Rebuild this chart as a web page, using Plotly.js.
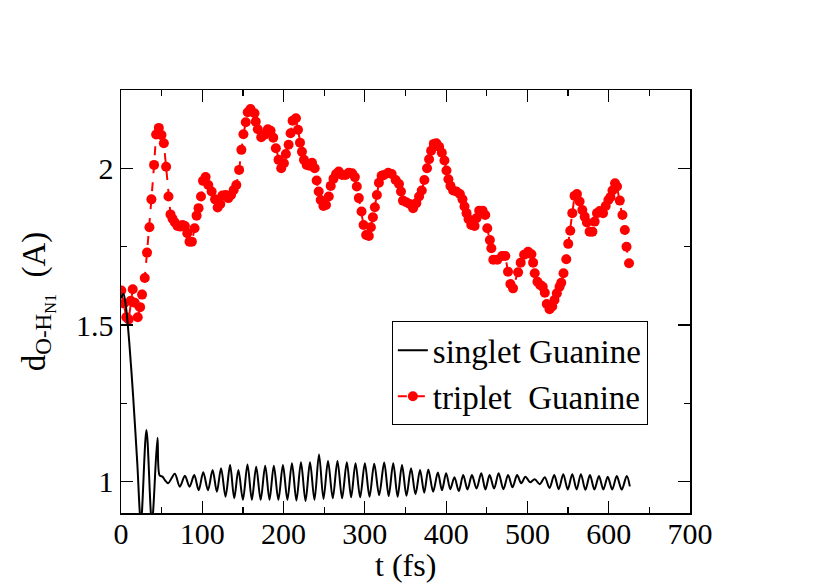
<!DOCTYPE html>
<html>
<head>
<meta charset="utf-8">
<script src="https://cdn.plot.ly/plotly-3.0.1.min.js"></script>
<style>
  html, body { margin: 0; padding: 0; background: #fff; }
  #chart { width: 830px; height: 587px; }
</style>
</head>
<body>
<div id="chart"></div>
<script>
// triplet Guanine (t in fs, distance in A)
const tripletT = [
  0.4, 3.7, 6.5, 9.5, 12, 14.4, 16.9, 20.6, 23.5, 25.9, 29.2, 32, 35, 37.4, 40.7, 43.2, 46.5, 49.8,
  52.7, 55.5, 58.4, 60.9, 63.4, 66.3, 69.5, 72.8, 75.7, 78.6, 81.5, 84.3, 87.2, 90.5, 93, 95.4,
  98.4, 100.9, 104.1, 107.4, 111.5, 115.7, 118.9, 122.2, 124.7, 128.8, 132, 135.4, 138.6, 141.9,
  145.3, 148.1, 150.6, 153.5, 155.9, 159.3, 164.2, 165.8, 168.3, 172.5, 176.5, 180.6, 184, 187.3,
  190.5, 193.8, 197.1, 200.4, 202.8, 206.2, 208.6, 211.1, 215.2, 217.7, 220.2, 222.6, 225.1,
  228.4, 231.7, 235, 238.3, 240.7, 243.2, 245.7, 249, 252.2, 255.6, 258, 261.4, 264.6, 267.9,
  272, 276.2, 280.2, 284.3, 287.7, 290.1, 292.6, 295.9, 298.4, 301.6, 304.9, 307.4, 309.9,
  312.3, 314.8, 317.3, 320.6, 323.5, 328.8, 333, 337.9, 342, 344.4, 346.9, 351, 355.2, 359.3,
  363.4, 366.7, 370, 373.2, 376.5, 379, 381.5, 384.8, 388, 391.4, 394.7, 397.9, 400.4, 402.8,
  405.3, 408.6, 412.7, 416.9, 420.1, 422.6, 425.1, 427.5, 430.9, 435, 437.4, 440.7, 444.8,
  448.1, 450.6, 453.8, 455.6, 458, 462.9, 468.8, 472.8, 476.1, 479, 482.3, 488.5, 491.7, 495.9,
  500.8, 504.9, 507, 509, 512.3, 515.6, 518.8, 521.4, 523.8, 527.2, 530.5, 533.3, 536.2, 539.5,
  541.6, 544.4, 547.8, 550.2, 552.7, 555.2, 558, 560.9, 564.2, 567.5, 570.4, 573.2, 576.5,
  579.9, 582.7, 585.6, 588.9, 593, 596.3, 599.6, 602.1, 604.6, 607.8, 610.2, 613.6, 616.9,
  619.8, 621.9, 625
];
const tripletD = [
  1.610, 1.569, 1.525, 1.518, 1.577, 1.614, 1.571, 1.525, 1.557, 1.597, 1.650, 1.731, 1.812, 1.901, 2.011, 2.108, 2.129, 2.106,
  2.080, 2.005, 1.910, 1.853, 1.839, 1.827, 1.816, 1.814, 1.819, 1.816, 1.793, 1.766, 1.766, 1.809, 1.849, 1.873,
  1.910, 1.960, 1.972, 1.947, 1.926, 1.901, 1.875, 1.886, 1.913, 1.915, 1.905, 1.915, 1.931, 1.947,
  1.995, 2.059, 2.109, 2.147, 2.179, 2.189, 2.176, 2.149, 2.125, 2.099, 2.107, 2.125, 2.120, 2.098,
  2.064, 2.027, 2.000, 2.016, 2.046, 2.075, 2.112, 2.152, 2.160, 2.123, 2.082, 2.053, 2.027,
  2.011, 2.008, 2.018, 2.000, 1.961, 1.926, 1.899, 1.880, 1.883, 1.910, 1.944, 1.967, 1.982, 1.990,
  1.979, 1.979, 1.986, 1.984, 1.972, 1.942, 1.905, 1.862, 1.819, 1.787, 1.784, 1.812, 1.844,
  1.876, 1.915, 1.954, 1.976, 1.979, 1.986, 1.982, 1.963, 1.950, 1.926, 1.897, 1.892, 1.886, 1.873,
  1.889, 1.910, 1.929, 1.963, 2.000, 2.029, 2.056, 2.078, 2.080, 2.069, 2.050, 2.025, 1.993, 1.965,
  1.944, 1.929, 1.926, 1.918, 1.901, 1.878, 1.857, 1.838, 1.819, 1.816, 1.841, 1.865, 1.865,
  1.851, 1.809, 1.771, 1.745, 1.708, 1.708, 1.720, 1.720, 1.670, 1.631, 1.617, 1.668, 1.699, 1.724,
  1.734, 1.726, 1.699, 1.665, 1.638, 1.628, 1.622, 1.603, 1.567, 1.550, 1.559, 1.580, 1.601, 1.622,
  1.635, 1.665, 1.710, 1.759, 1.801, 1.857, 1.912, 1.918, 1.894, 1.867, 1.846, 1.827, 1.798,
  1.798, 1.830, 1.857, 1.864, 1.857, 1.880, 1.899, 1.908, 1.929, 1.952, 1.942, 1.897, 1.851,
  1.803, 1.750, 1.697
];

// singlet Guanine: start of the drop, then the turning points of the O-H vibration
const singletT = [
  0, 3, 6, 10, 15, 20, 24.5, 31.3, 38, 44.9, 47.5, 51, 54, 58, 62,
  66.3, 72.4, 78.6, 84.3, 90.1, 95.6, 101.2, 107, 112.7, 117.9, 123.1, 128.6, 134.2, 139.3,
  144.4, 150, 155.6, 161, 166.3, 171.8, 177.4, 182.7, 188, 193.6, 199.2, 204.7, 210.3, 215.8,
  221.4, 227, 232.5, 238, 243.6, 249.1, 254.7, 260.5, 266.3, 272, 277.8, 283.1, 288.5, 294.2,
  300, 305.7, 311.5, 317.6, 323.8, 329.3, 334.9, 340.3, 345.7, 351.2, 356.8, 362.3, 367.9, 373,
  378.1, 384, 389.8, 394.9, 400, 405.1, 410.2, 415.6, 421, 426.3, 431.7, 437.4, 443.2, 448.3,
  453.5, 459, 464.6, 470.4, 476.2, 481.7, 487.3, 492.4, 497.5, 503.2, 509, 515.2, 521.4, 527.2,
  533, 538.5, 544.1, 549.6, 555.2, 560.5, 565.8, 571.3, 576.9, 582.4, 588, 593.4, 598.8, 604.3,
  609.9, 616, 622.2, 626
];
const singletD = [
  1.585, 1.60, 1.56, 1.45, 1.27, 1.06, 0.87, 1.165, 0.87, 1.14, 1.02, 1.016, 1.005, 0.995, 1.01,
  1.025, 0.984, 1.019, 0.984, 1.021, 0.973, 1.030, 0.973, 1.037, 0.968, 1.043, 0.952, 1.053, 0.947,
  1.037, 0.942, 1.055, 0.942, 1.048, 0.942, 1.051, 0.942, 1.051, 0.942, 1.053, 0.942, 1.059, 0.940,
  1.062, 0.938, 1.062, 0.942, 1.087, 0.945, 1.066, 0.947, 1.066, 0.947, 1.062, 0.950, 1.059, 0.950,
  1.059, 0.952, 1.057, 0.957, 1.061, 0.954, 1.059, 0.952, 1.053, 0.955, 1.043, 0.960, 1.037, 0.965,
  1.039, 0.968, 1.029, 0.973, 1.027, 0.976, 1.014, 0.970, 1.021, 0.975, 1.021, 0.978, 1.027, 0.975,
  1.021, 0.978, 1.027, 0.976, 1.021, 0.982, 1.021, 0.995, 1.016, 0.998, 1.008, 0.992, 1.014, 0.980,
  1.021, 0.976, 1.024, 0.975, 1.024, 0.975, 1.024, 0.974, 1.021, 0.975, 1.018, 0.975, 1.016, 0.975,
  1.018, 0.975, 1.018, 0.985
];

const SERIF = 'Liberation Serif, Times New Roman, serif';

const triplet = {
  type: 'scatter',
  mode: 'lines+markers',
  name: 'triplet\u00a0 Guanine',
  x: tripletT,
  y: tripletD,
  line: { color: '#ff0000', width: 2, dash: 'dash' },
  marker: { color: '#ff0000', size: 10, symbol: 'circle' },
  cliponaxis: true,
};

const singlet = {
  type: 'scatter',
  mode: 'lines',
  name: 'singlet Guanine',
  x: singletT,
  y: singletD,
  line: { color: '#000000', width: 2, shape: 'spline', smoothing: 0.9 },
  cliponaxis: true,
};

const axisBase = {
  showgrid: false,
  zeroline: false,
  showline: true,
  linecolor: '#000',
  linewidth: 1.5,
  mirror: 'allticks',
  ticks: 'inside',
  ticklen: 12,
  tickwidth: 1.2,
  tickcolor: '#000',
  tickfont: { family: SERIF, size: 30, color: '#000' },
};

const layout = {
  width: 830,
  height: 587,
  paper_bgcolor: '#fff',
  plot_bgcolor: '#fff',
  margin: { l: 121, r: 140, t: 90, b: 74 },
  showlegend: true,
  xaxis: {
    ...axisBase,
    range: [0, 700],
    dtick: 100,
    tick0: 0,
    ticklabelstandoff: -7,
    minor: { dtick: 50, ticks: 'inside', ticklen: 6, tickwidth: 1.2, tickcolor: '#000' },
  },
  yaxis: {
    ...axisBase,
    range: [0.9, 2.25],
    tickvals: [1, 1.5, 2],
    ticktext: ['1', '1.5', '2'],
    minor: { tickvals: [1.25, 1.75, 2.25], ticks: 'inside', ticklen: 6, tickwidth: 1.2, tickcolor: '#000' },
    title: { text: 'd<sub>O-H<sub>N1</sub></sub>  (A)', font: { family: SERIF, size: 33, color: '#000' } },
  },
  // x axis title, placed a bit closer to the tick labels than Plotly's own title
  annotations: [{
    text: 't (fs)',
    xref: 'paper', yref: 'paper',
    x: 0.5, y: -0.123,
    xanchor: 'center', yanchor: 'middle',
    showarrow: false,
    font: { family: SERIF, size: 32, color: '#000' },
  }],
  legend: {
    x: 0.476, y: 0.453, xanchor: 'left', yanchor: 'top',
    bgcolor: '#fff',
    bordercolor: '#000',
    borderwidth: 1,
    traceorder: 'reversed',
    font: { family: SERIF, size: 33, color: '#000' },
    itemwidth: 30,
  },
};

Plotly.newPlot('chart', [triplet, singlet], layout, { displayModeBar: false, staticPlot: true });
</script>
</body>
</html>
